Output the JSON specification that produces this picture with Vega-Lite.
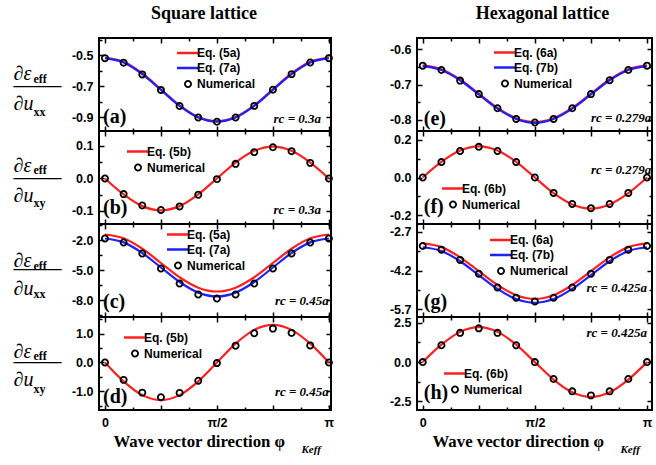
{
"$schema": "https://vega.github.io/schema/vega-lite/v6.json",
"background": "white",
"padding": {"left": 12, "top": 4, "right": 0, "bottom": 0},
"datasets": {
"a": [
{"s":"Eq. (5a)","x":0,"y":-0.516},{"s":"Eq. (5a)","x":15,"y":-0.544},{"s":"Eq. (5a)","x":30,"y":-0.619},{"s":"Eq. (5a)","x":45,"y":-0.721},{"s":"Eq. (5a)","x":60,"y":-0.824},{"s":"Eq. (5a)","x":75,"y":-0.899},{"s":"Eq. (5a)","x":90,"y":-0.926},{"s":"Eq. (5a)","x":105,"y":-0.899},{"s":"Eq. (5a)","x":120,"y":-0.824},{"s":"Eq. (5a)","x":135,"y":-0.721},{"s":"Eq. (5a)","x":150,"y":-0.619},{"s":"Eq. (5a)","x":165,"y":-0.544},{"s":"Eq. (5a)","x":180,"y":-0.516},
{"s":"Eq. (7a)","x":0,"y":-0.52},{"s":"Eq. (7a)","x":15,"y":-0.548},{"s":"Eq. (7a)","x":30,"y":-0.623},{"s":"Eq. (7a)","x":45,"y":-0.725},{"s":"Eq. (7a)","x":60,"y":-0.828},{"s":"Eq. (7a)","x":75,"y":-0.903},{"s":"Eq. (7a)","x":90,"y":-0.93},{"s":"Eq. (7a)","x":105,"y":-0.903},{"s":"Eq. (7a)","x":120,"y":-0.828},{"s":"Eq. (7a)","x":135,"y":-0.725},{"s":"Eq. (7a)","x":150,"y":-0.623},{"s":"Eq. (7a)","x":165,"y":-0.548},{"s":"Eq. (7a)","x":180,"y":-0.52},
{"s":"Numerical","x":0,"y":-0.52},{"s":"Numerical","x":15,"y":-0.549},{"s":"Numerical","x":30,"y":-0.625},{"s":"Numerical","x":45,"y":-0.725},{"s":"Numerical","x":60,"y":-0.829},{"s":"Numerical","x":75,"y":-0.903},{"s":"Numerical","x":90,"y":-0.93},{"s":"Numerical","x":105,"y":-0.903},{"s":"Numerical","x":120,"y":-0.828},{"s":"Numerical","x":135,"y":-0.724},{"s":"Numerical","x":150,"y":-0.623},{"s":"Numerical","x":165,"y":-0.548},{"s":"Numerical","x":180,"y":-0.52}
],
"b": [
{"s":"Eq. (5b)","x":0,"y":0},{"s":"Eq. (5b)","x":15,"y":-0.049},{"s":"Eq. (5b)","x":30,"y":-0.085},{"s":"Eq. (5b)","x":45,"y":-0.098},{"s":"Eq. (5b)","x":60,"y":-0.085},{"s":"Eq. (5b)","x":75,"y":-0.049},{"s":"Eq. (5b)","x":90,"y":0},{"s":"Eq. (5b)","x":105,"y":0.049},{"s":"Eq. (5b)","x":120,"y":0.085},{"s":"Eq. (5b)","x":135,"y":0.098},{"s":"Eq. (5b)","x":150,"y":0.085},{"s":"Eq. (5b)","x":165,"y":0.049},{"s":"Eq. (5b)","x":180,"y":0},
{"s":"Numerical","x":0,"y":0},{"s":"Numerical","x":15,"y":-0.048},{"s":"Numerical","x":30,"y":-0.083},{"s":"Numerical","x":45,"y":-0.097},{"s":"Numerical","x":60,"y":-0.086},{"s":"Numerical","x":75,"y":-0.05},{"s":"Numerical","x":90,"y":-0.002},{"s":"Numerical","x":105,"y":0.045},{"s":"Numerical","x":120,"y":0.081},{"s":"Numerical","x":135,"y":0.096},{"s":"Numerical","x":150,"y":0.084},{"s":"Numerical","x":165,"y":0.048},{"s":"Numerical","x":180,"y":0}
],
"c": [
{"s":"Eq. (5a)","x":0,"y":-1.45},{"s":"Eq. (5a)","x":15,"y":-1.832},{"s":"Eq. (5a)","x":30,"y":-2.875},{"s":"Eq. (5a)","x":45,"y":-4.3},{"s":"Eq. (5a)","x":60,"y":-5.725},{"s":"Eq. (5a)","x":75,"y":-6.768},{"s":"Eq. (5a)","x":90,"y":-7.15},{"s":"Eq. (5a)","x":105,"y":-6.768},{"s":"Eq. (5a)","x":120,"y":-5.725},{"s":"Eq. (5a)","x":135,"y":-4.3},{"s":"Eq. (5a)","x":150,"y":-2.875},{"s":"Eq. (5a)","x":165,"y":-1.832},{"s":"Eq. (5a)","x":180,"y":-1.45},
{"s":"Eq. (7a)","x":0,"y":-1.85},{"s":"Eq. (7a)","x":15,"y":-2.239},{"s":"Eq. (7a)","x":30,"y":-3.3},{"s":"Eq. (7a)","x":45,"y":-4.75},{"s":"Eq. (7a)","x":60,"y":-6.2},{"s":"Eq. (7a)","x":75,"y":-7.261},{"s":"Eq. (7a)","x":90,"y":-7.65},{"s":"Eq. (7a)","x":105,"y":-7.261},{"s":"Eq. (7a)","x":120,"y":-6.2},{"s":"Eq. (7a)","x":135,"y":-4.75},{"s":"Eq. (7a)","x":150,"y":-3.3},{"s":"Eq. (7a)","x":165,"y":-2.239},{"s":"Eq. (7a)","x":180,"y":-1.85},
{"s":"Numerical","x":0,"y":-1.85},{"s":"Numerical","x":15,"y":-2.25},{"s":"Numerical","x":30,"y":-3.35},{"s":"Numerical","x":45,"y":-4.85},{"s":"Numerical","x":60,"y":-6.35},{"s":"Numerical","x":75,"y":-7.45},{"s":"Numerical","x":90,"y":-7.85},{"s":"Numerical","x":105,"y":-7.45},{"s":"Numerical","x":120,"y":-6.35},{"s":"Numerical","x":135,"y":-4.85},{"s":"Numerical","x":150,"y":-3.35},{"s":"Numerical","x":165,"y":-2.25},{"s":"Numerical","x":180,"y":-1.85}
],
"d": [
{"s":"Eq. (5b)","x":0,"y":0},{"s":"Eq. (5b)","x":15,"y":-0.65},{"s":"Eq. (5b)","x":30,"y":-1.126},{"s":"Eq. (5b)","x":45,"y":-1.3},{"s":"Eq. (5b)","x":60,"y":-1.126},{"s":"Eq. (5b)","x":75,"y":-0.65},{"s":"Eq. (5b)","x":90,"y":0},{"s":"Eq. (5b)","x":105,"y":0.65},{"s":"Eq. (5b)","x":120,"y":1.126},{"s":"Eq. (5b)","x":135,"y":1.3},{"s":"Eq. (5b)","x":150,"y":1.126},{"s":"Eq. (5b)","x":165,"y":0.65},{"s":"Eq. (5b)","x":180,"y":0},
{"s":"Numerical","x":0,"y":0},{"s":"Numerical","x":15,"y":-0.6},{"s":"Numerical","x":30,"y":-1.04},{"s":"Numerical","x":45,"y":-1.2},{"s":"Numerical","x":60,"y":-1.05},{"s":"Numerical","x":75,"y":-0.63},{"s":"Numerical","x":90,"y":-0.02},{"s":"Numerical","x":105,"y":0.58},{"s":"Numerical","x":120,"y":1.01},{"s":"Numerical","x":135,"y":1.17},{"s":"Numerical","x":150,"y":1.02},{"s":"Numerical","x":165,"y":0.59},{"s":"Numerical","x":180,"y":0}
],
"e": [
{"s":"Eq. (6a)","x":0,"y":-0.646},{"s":"Eq. (6a)","x":15,"y":-0.657},{"s":"Eq. (6a)","x":30,"y":-0.686},{"s":"Eq. (6a)","x":45,"y":-0.726},{"s":"Eq. (6a)","x":60,"y":-0.766},{"s":"Eq. (6a)","x":75,"y":-0.795},{"s":"Eq. (6a)","x":90,"y":-0.806},{"s":"Eq. (6a)","x":105,"y":-0.795},{"s":"Eq. (6a)","x":120,"y":-0.766},{"s":"Eq. (6a)","x":135,"y":-0.726},{"s":"Eq. (6a)","x":150,"y":-0.686},{"s":"Eq. (6a)","x":165,"y":-0.657},{"s":"Eq. (6a)","x":180,"y":-0.646},
{"s":"Eq. (7b)","x":0,"y":-0.648},{"s":"Eq. (7b)","x":15,"y":-0.659},{"s":"Eq. (7b)","x":30,"y":-0.688},{"s":"Eq. (7b)","x":45,"y":-0.728},{"s":"Eq. (7b)","x":60,"y":-0.768},{"s":"Eq. (7b)","x":75,"y":-0.797},{"s":"Eq. (7b)","x":90,"y":-0.808},{"s":"Eq. (7b)","x":105,"y":-0.797},{"s":"Eq. (7b)","x":120,"y":-0.768},{"s":"Eq. (7b)","x":135,"y":-0.728},{"s":"Eq. (7b)","x":150,"y":-0.688},{"s":"Eq. (7b)","x":165,"y":-0.659},{"s":"Eq. (7b)","x":180,"y":-0.648},
{"s":"Numerical","x":0,"y":-0.647},{"s":"Numerical","x":15,"y":-0.659},{"s":"Numerical","x":30,"y":-0.689},{"s":"Numerical","x":45,"y":-0.727},{"s":"Numerical","x":60,"y":-0.767},{"s":"Numerical","x":75,"y":-0.797},{"s":"Numerical","x":90,"y":-0.807},{"s":"Numerical","x":105,"y":-0.797},{"s":"Numerical","x":120,"y":-0.767},{"s":"Numerical","x":135,"y":-0.727},{"s":"Numerical","x":150,"y":-0.688},{"s":"Numerical","x":165,"y":-0.659},{"s":"Numerical","x":180,"y":-0.647}
],
"f": [
{"s":"Eq. (6b)","x":0,"y":0},{"s":"Eq. (6b)","x":15,"y":0.083},{"s":"Eq. (6b)","x":30,"y":0.143},{"s":"Eq. (6b)","x":45,"y":0.165},{"s":"Eq. (6b)","x":60,"y":0.143},{"s":"Eq. (6b)","x":75,"y":0.083},{"s":"Eq. (6b)","x":90,"y":0},{"s":"Eq. (6b)","x":105,"y":-0.083},{"s":"Eq. (6b)","x":120,"y":-0.143},{"s":"Eq. (6b)","x":135,"y":-0.165},{"s":"Eq. (6b)","x":150,"y":-0.143},{"s":"Eq. (6b)","x":165,"y":-0.083},{"s":"Eq. (6b)","x":180,"y":0},
{"s":"Numerical","x":0,"y":0},{"s":"Numerical","x":15,"y":0.082},{"s":"Numerical","x":30,"y":0.141},{"s":"Numerical","x":45,"y":0.163},{"s":"Numerical","x":60,"y":0.141},{"s":"Numerical","x":75,"y":0.082},{"s":"Numerical","x":90,"y":0},{"s":"Numerical","x":105,"y":-0.082},{"s":"Numerical","x":120,"y":-0.141},{"s":"Numerical","x":135,"y":-0.163},{"s":"Numerical","x":150,"y":-0.141},{"s":"Numerical","x":165,"y":-0.082},{"s":"Numerical","x":180,"y":0}
],
"g": [
{"s":"Eq. (6a)","x":0,"y":-3.15},{"s":"Eq. (6a)","x":15,"y":-3.294},{"s":"Eq. (6a)","x":30,"y":-3.69},{"s":"Eq. (6a)","x":45,"y":-4.225},{"s":"Eq. (6a)","x":60,"y":-4.76},{"s":"Eq. (6a)","x":75,"y":-5.156},{"s":"Eq. (6a)","x":90,"y":-5.3},{"s":"Eq. (6a)","x":105,"y":-5.156},{"s":"Eq. (6a)","x":120,"y":-4.76},{"s":"Eq. (6a)","x":135,"y":-4.225},{"s":"Eq. (6a)","x":150,"y":-3.69},{"s":"Eq. (6a)","x":165,"y":-3.294},{"s":"Eq. (6a)","x":180,"y":-3.15},
{"s":"Eq. (7b)","x":0,"y":-3.3},{"s":"Eq. (7b)","x":15,"y":-3.444},{"s":"Eq. (7b)","x":30,"y":-3.84},{"s":"Eq. (7b)","x":45,"y":-4.375},{"s":"Eq. (7b)","x":60,"y":-4.91},{"s":"Eq. (7b)","x":75,"y":-5.306},{"s":"Eq. (7b)","x":90,"y":-5.45},{"s":"Eq. (7b)","x":105,"y":-5.306},{"s":"Eq. (7b)","x":120,"y":-4.91},{"s":"Eq. (7b)","x":135,"y":-4.375},{"s":"Eq. (7b)","x":150,"y":-3.84},{"s":"Eq. (7b)","x":165,"y":-3.444},{"s":"Eq. (7b)","x":180,"y":-3.3},
{"s":"Numerical","x":0,"y":-3.25},{"s":"Numerical","x":15,"y":-3.394},{"s":"Numerical","x":30,"y":-3.79},{"s":"Numerical","x":45,"y":-4.325},{"s":"Numerical","x":60,"y":-4.86},{"s":"Numerical","x":75,"y":-5.256},{"s":"Numerical","x":90,"y":-5.4},{"s":"Numerical","x":105,"y":-5.256},{"s":"Numerical","x":120,"y":-4.86},{"s":"Numerical","x":135,"y":-4.325},{"s":"Numerical","x":150,"y":-3.79},{"s":"Numerical","x":165,"y":-3.394},{"s":"Numerical","x":180,"y":-3.25}
],
"h": [
{"s":"Eq. (6b)","x":0,"y":0},{"s":"Eq. (6b)","x":15,"y":1.11},{"s":"Eq. (6b)","x":30,"y":1.923},{"s":"Eq. (6b)","x":45,"y":2.22},{"s":"Eq. (6b)","x":60,"y":1.923},{"s":"Eq. (6b)","x":75,"y":1.11},{"s":"Eq. (6b)","x":90,"y":0},{"s":"Eq. (6b)","x":105,"y":-1.11},{"s":"Eq. (6b)","x":120,"y":-1.923},{"s":"Eq. (6b)","x":135,"y":-2.22},{"s":"Eq. (6b)","x":150,"y":-1.923},{"s":"Eq. (6b)","x":165,"y":-1.11},{"s":"Eq. (6b)","x":180,"y":0},
{"s":"Numerical","x":0,"y":0},{"s":"Numerical","x":15,"y":1.075},{"s":"Numerical","x":30,"y":1.862},{"s":"Numerical","x":45,"y":2.15},{"s":"Numerical","x":60,"y":1.862},{"s":"Numerical","x":75,"y":1.075},{"s":"Numerical","x":90,"y":0},{"s":"Numerical","x":105,"y":-1.075},{"s":"Numerical","x":120,"y":-1.862},{"s":"Numerical","x":135,"y":-2.12},{"s":"Numerical","x":150,"y":-1.862},{"s":"Numerical","x":165,"y":-1.075},{"s":"Numerical","x":180,"y":0}
]
},
"hconcat": [
{
"spacing": 0, "bounds": "flush",
"resolve": {"scale": {"x": "independent", "y": "independent", "color": "independent"}, "legend": {"color": "independent"}},
"vconcat": [
{
"width": 232, "height": 93, "data": {"name": "a"},
"title": {"text": "Square lattice", "frame": "group", "anchor": "middle", "offset": 14, "dx": -11},
"layer": [
{"transform": [{"filter": "datum.s !== 'Numerical'"}],
"mark": {"type": "line", "interpolate": "monotone", "strokeWidth": 2.2},
"encoding": {
"x": {"field": "x", "type": "quantitative", "scale": {"domain": [-4.8, 181.7], "nice": false}, "axis": {"orient": "bottom", "values": [0, 45, 90, 135, 180], "labels": false, "title": null}},
"y": {"field": "y", "type": "quantitative", "scale": {"domain": [-0.99, -0.39], "nice": false, "zero": false}, "axis": {"orient": "left", "values": [-0.9, -0.7, -0.5], "format": ".1f", "title": ["\u2009∂ε", "∂u"], "titleAngle": 0, "titleAlign": "left", "titleBaseline": "middle", "titleX": -86, "titleY": 35, "titleFontStyle": "italic", "titleFontWeight": "normal", "titleFontSize": 20, "titleLineHeight": 30}},
"color": {"field": "s", "type": "nominal", "scale": {"domain": ["Eq. (5a)", "Eq. (7a)", "Numerical"], "range": ["#ff1f1f", "#1f1fff", "#000000"]}, "legend": {"title": null, "orient": "none", "legendX": 83, "legendY": 9, "encode": {"symbols": {"update": {"shape": {"signal": "datum.value === 'Numerical' ? 'circle' : 'stroke'"}, "size": {"signal": "datum.value === 'Numerical' ? 38 : 484"}, "strokeWidth": {"signal": "datum.value === 'Numerical' ? 1.8 : 2.5"}, "fill": {"value": "transparent"}}}}}}
}},
{"transform": [{"filter": "datum.s === 'Numerical'"}],
"mark": {"type": "point", "filled": false, "size": 38, "strokeWidth": 1.8, "opacity": 1},
"encoding": {
"x": {"field": "x", "type": "quantitative", "axis": {"orient": "top", "values": [0, 45, 90, 135, 180], "labels": false, "title": null}},
"y": {"field": "y", "type": "quantitative", "axis": {"orient": "right", "values": [-0.9, -0.7, -0.5], "labels": false, "title": null}},
"color": {"field": "s", "type": "nominal"}
}},
{"data": {"values": [{"t": "(a)"}]},
"mark": {"type": "text", "align": "left", "baseline": "middle", "font": "Liberation Serif", "fontWeight": "bold", "fontSize": 20, "color": "black"},
"encoding": {
"x": {"datum": -1.6, "type": "quantitative", "axis": {"orient": "bottom", "values": [22.5, 67.5, 112.5, 157.5], "labels": false, "tickSize": -3, "title": null}},
"y": {"datum": -0.9, "type": "quantitative", "axis": {"orient": "left", "values": [-0.8, -0.6, -0.4], "labels": false, "tickSize": -3, "title": ["eff", "xx"], "titleAngle": 0, "titleAlign": "left", "titleBaseline": "middle", "titleX": -66, "titleY": 40, "titleFontSize": 12, "titleLineHeight": 33}},
"text": {"field": "t"}
}},
{"data": {"values": [{"t": "rc = 0.3a"}]},
"mark": {"type": "text", "align": "right", "baseline": "middle", "font": "Liberation Serif", "fontWeight": "bold", "fontStyle": "italic", "fontSize": 13, "color": "black"},
"encoding": {
"x": {"datum": 173.7, "type": "quantitative", "axis": {"orient": "top", "values": [22.5, 67.5, 112.5, 157.5], "labels": false, "tickSize": -3, "title": "———", "titleAngle": 0, "titleAlign": "left", "titleBaseline": "middle", "titleX": -86, "titleY": 47, "titleFontSize": 16, "titleFontWeight": "bold"}},
"y": {"datum": -0.913, "type": "quantitative", "axis": {"orient": "right", "values": [-0.8, -0.6, -0.4], "labels": false, "tickSize": -3, "title": null}},
"text": {"field": "t"}
}}
],
"resolve": {"axis": {"x": "independent", "y": "independent"}}
},
{
"width": 232, "height": 93, "data": {"name": "b"},
"layer": [
{"transform": [{"filter": "datum.s !== 'Numerical'"}],
"mark": {"type": "line", "interpolate": "monotone", "strokeWidth": 2.2},
"encoding": {
"x": {"field": "x", "type": "quantitative", "scale": {"domain": [-4.8, 181.7], "nice": false}, "axis": {"orient": "bottom", "values": [0, 45, 90, 135, 180], "labels": false, "title": null}},
"y": {"field": "y", "type": "quantitative", "scale": {"domain": [-0.14, 0.146], "nice": false, "zero": false}, "axis": {"orient": "left", "values": [-0.1, 0, 0.1], "format": ".1f", "title": ["\u2009∂ε", "∂u"], "titleAngle": 0, "titleAlign": "left", "titleBaseline": "middle", "titleX": -86, "titleY": 34, "titleFontStyle": "italic", "titleFontWeight": "normal", "titleFontSize": 20, "titleLineHeight": 30}},
"color": {"field": "s", "type": "nominal", "scale": {"domain": ["Eq. (5b)", "Numerical"], "range": ["#ff1f1f", "#000000"]}, "legend": {"title": null, "orient": "none", "legendX": 33, "legendY": 14.5, "encode": {"symbols": {"update": {"shape": {"signal": "datum.value === 'Numerical' ? 'circle' : 'stroke'"}, "size": {"signal": "datum.value === 'Numerical' ? 38 : 484"}, "strokeWidth": {"signal": "datum.value === 'Numerical' ? 1.8 : 2.5"}, "fill": {"value": "transparent"}}}}}}
}},
{"transform": [{"filter": "datum.s === 'Numerical'"}],
"mark": {"type": "point", "filled": false, "size": 38, "strokeWidth": 1.8, "opacity": 1},
"encoding": {
"x": {"field": "x", "type": "quantitative", "axis": {"orient": "top", "values": [0, 45, 90, 135, 180], "labels": false, "title": null}},
"y": {"field": "y", "type": "quantitative", "axis": {"orient": "right", "values": [-0.1, 0, 0.1], "labels": false, "title": null}},
"color": {"field": "s", "type": "nominal"}
}},
{"data": {"values": [{"t": "(b)"}]},
"mark": {"type": "text", "align": "left", "baseline": "middle", "font": "Liberation Serif", "fontWeight": "bold", "fontSize": 20, "color": "black"},
"encoding": {
"x": {"datum": -1.6, "type": "quantitative", "axis": {"orient": "bottom", "values": [22.5, 67.5, 112.5, 157.5], "labels": false, "tickSize": -3, "title": null}},
"y": {"datum": -0.091, "type": "quantitative", "axis": {"orient": "left", "values": [-0.05, 0.05], "labels": false, "tickSize": -3, "title": ["eff", "xy"], "titleAngle": 0, "titleAlign": "left", "titleBaseline": "middle", "titleX": -66, "titleY": 38, "titleFontSize": 12, "titleLineHeight": 33}},
"text": {"field": "t"}
}},
{"data": {"values": [{"t": "rc = 0.3a"}]},
"mark": {"type": "text", "align": "right", "baseline": "middle", "font": "Liberation Serif", "fontWeight": "bold", "fontStyle": "italic", "fontSize": 13, "color": "black"},
"encoding": {
"x": {"datum": 173.7, "type": "quantitative", "axis": {"orient": "top", "values": [22.5, 67.5, 112.5, 157.5], "labels": false, "tickSize": -3, "title": "———", "titleAngle": 0, "titleAlign": "left", "titleBaseline": "middle", "titleX": -86, "titleY": 46, "titleFontSize": 16, "titleFontWeight": "bold"}},
"y": {"datum": -0.097, "type": "quantitative", "axis": {"orient": "right", "values": [-0.05, 0.05], "labels": false, "tickSize": -3, "title": null}},
"text": {"field": "t"}
}}
],
"resolve": {"axis": {"x": "independent", "y": "independent"}}
},
{
"width": 232, "height": 93, "data": {"name": "c"},
"layer": [
{"transform": [{"filter": "datum.s !== 'Numerical'"}],
"mark": {"type": "line", "interpolate": "monotone", "strokeWidth": 2.2},
"encoding": {
"x": {"field": "x", "type": "quantitative", "scale": {"domain": [-4.8, 181.7], "nice": false}, "axis": {"orient": "bottom", "values": [0, 45, 90, 135, 180], "labels": false, "title": null}},
"y": {"field": "y", "type": "quantitative", "scale": {"domain": [-9.7, -0.4], "nice": false, "zero": false}, "axis": {"orient": "left", "values": [-8, -5, -2], "format": ".1f", "title": ["\u2009∂ε", "∂u"], "titleAngle": 0, "titleAlign": "left", "titleBaseline": "middle", "titleX": -86, "titleY": 36, "titleFontStyle": "italic", "titleFontWeight": "normal", "titleFontSize": 20, "titleLineHeight": 28}},
"color": {"field": "s", "type": "nominal", "scale": {"domain": ["Eq. (5a)", "Eq. (7a)", "Numerical"], "range": ["#ff1f1f", "#1f1fff", "#000000"]}, "legend": {"title": null, "orient": "none", "legendX": 73, "legendY": 4.5, "encode": {"symbols": {"update": {"shape": {"signal": "datum.value === 'Numerical' ? 'circle' : 'stroke'"}, "size": {"signal": "datum.value === 'Numerical' ? 38 : 484"}, "strokeWidth": {"signal": "datum.value === 'Numerical' ? 1.8 : 2.5"}, "fill": {"value": "transparent"}}}}}}
}},
{"transform": [{"filter": "datum.s === 'Numerical'"}],
"mark": {"type": "point", "filled": false, "size": 38, "strokeWidth": 1.8, "opacity": 1},
"encoding": {
"x": {"field": "x", "type": "quantitative", "axis": {"orient": "top", "values": [0, 45, 90, 135, 180], "labels": false, "title": null}},
"y": {"field": "y", "type": "quantitative", "axis": {"orient": "right", "values": [-8, -5, -2], "labels": false, "title": null}},
"color": {"field": "s", "type": "nominal"}
}},
{"data": {"values": [{"t": "(c)"}]},
"mark": {"type": "text", "align": "left", "baseline": "middle", "font": "Liberation Serif", "fontWeight": "bold", "fontSize": 20, "color": "black"},
"encoding": {
"x": {"datum": -1.6, "type": "quantitative", "axis": {"orient": "bottom", "values": [22.5, 67.5, 112.5, 157.5], "labels": false, "tickSize": -3, "title": null}},
"y": {"datum": -8.17, "type": "quantitative", "axis": {"orient": "left", "values": [-9.5, -6.5, -3.5, -0.5], "labels": false, "tickSize": -3, "title": ["eff", "xx"], "titleAngle": 0, "titleAlign": "left", "titleBaseline": "middle", "titleX": -66, "titleY": 41, "titleFontSize": 12, "titleLineHeight": 28}},
"text": {"field": "t"}
}},
{"data": {"values": [{"t": "rc = 0.45a"}]},
"mark": {"type": "text", "align": "right", "baseline": "middle", "font": "Liberation Serif", "fontWeight": "bold", "fontStyle": "italic", "fontSize": 13, "color": "black"},
"encoding": {
"x": {"datum": 180, "type": "quantitative", "axis": {"orient": "top", "values": [22.5, 67.5, 112.5, 157.5], "labels": false, "tickSize": -3, "title": "———", "titleAngle": 0, "titleAlign": "left", "titleBaseline": "middle", "titleX": -86, "titleY": 44, "titleFontSize": 16, "titleFontWeight": "bold"}},
"y": {"datum": -8.1, "type": "quantitative", "axis": {"orient": "right", "values": [-9.5, -6.5, -3.5, -0.5], "labels": false, "tickSize": -3, "title": null}},
"text": {"field": "t"}
}}
],
"resolve": {"axis": {"x": "independent", "y": "independent"}}
},
{
"width": 232, "height": 93, "data": {"name": "d"},
"layer": [
{"transform": [{"filter": "datum.s !== 'Numerical'"}],
"mark": {"type": "line", "interpolate": "monotone", "strokeWidth": 2.2},
"encoding": {
"x": {"field": "x", "type": "quantitative", "scale": {"domain": [-4.8, 181.7], "nice": false}, "axis": {"orient": "bottom", "values": [0, 45, 90, 135, 180], "labelExpr": "datum.value === 0 ? '0' : datum.value === 90 ? 'π/2' : datum.value === 180 ? 'π' : ''", "title": "Wave vector direction  φ", "titleAngle": 0, "titleAlign": "left", "titleBaseline": "middle", "titleX": 14, "titleY": 31, "titleFontSize": 16.8}},
"y": {"field": "y", "type": "quantitative", "scale": {"domain": [-1.64, 1.57], "nice": false, "zero": false}, "axis": {"orient": "left", "values": [-1, 0, 1], "format": ".1f", "title": ["\u2009∂ε", "∂u"], "titleAngle": 0, "titleAlign": "left", "titleBaseline": "middle", "titleX": -86, "titleY": 34, "titleFontStyle": "italic", "titleFontWeight": "normal", "titleFontSize": 20, "titleLineHeight": 28}},
"color": {"field": "s", "type": "nominal", "scale": {"domain": ["Eq. (5b)", "Numerical"], "range": ["#ff1f1f", "#000000"]}, "legend": {"title": null, "orient": "none", "legendX": 30, "legendY": 14.5, "encode": {"symbols": {"update": {"shape": {"signal": "datum.value === 'Numerical' ? 'circle' : 'stroke'"}, "size": {"signal": "datum.value === 'Numerical' ? 38 : 484"}, "strokeWidth": {"signal": "datum.value === 'Numerical' ? 1.8 : 2.5"}, "fill": {"value": "transparent"}}}}}}
}},
{"transform": [{"filter": "datum.s === 'Numerical'"}],
"mark": {"type": "point", "filled": false, "size": 38, "strokeWidth": 1.8, "opacity": 1},
"encoding": {
"x": {"field": "x", "type": "quantitative", "axis": {"orient": "top", "values": [0, 45, 90, 135, 180], "labels": false, "title": null}},
"y": {"field": "y", "type": "quantitative", "axis": {"orient": "right", "values": [-1, 0, 1], "labels": false, "title": null}},
"color": {"field": "s", "type": "nominal"}
}},
{"data": {"values": [{"t": "(d)"}]},
"mark": {"type": "text", "align": "left", "baseline": "middle", "font": "Liberation Serif", "fontWeight": "bold", "fontSize": 20, "color": "black"},
"encoding": {
"x": {"datum": -1.6, "type": "quantitative", "axis": {"orient": "bottom", "values": [22.5, 67.5, 112.5, 157.5], "labels": false, "tickSize": -3, "title": "Keff", "titleAngle": 0, "titleAlign": "left", "titleBaseline": "middle", "titleX": 202, "titleY": 39, "titleFontSize": 11, "titleFontStyle": "italic"}},
"y": {"datum": -1.18, "type": "quantitative", "axis": {"orient": "left", "values": [-1.5, -0.5, 0.5, 1.5], "labels": false, "tickSize": -3, "title": ["eff", "xy"], "titleAngle": 0, "titleAlign": "left", "titleBaseline": "middle", "titleX": -66, "titleY": 38, "titleFontSize": 12, "titleLineHeight": 33}},
"text": {"field": "t"}
}},
{"data": {"values": [{"t": "rc = 0.45a"}]},
"mark": {"type": "text", "align": "right", "baseline": "middle", "font": "Liberation Serif", "fontWeight": "bold", "fontStyle": "italic", "fontSize": 13, "color": "black"},
"encoding": {
"x": {"datum": 180, "type": "quantitative", "axis": {"orient": "top", "values": [22.5, 67.5, 112.5, 157.5], "labels": false, "tickSize": -3, "title": "———", "titleAngle": 0, "titleAlign": "left", "titleBaseline": "middle", "titleX": -86, "titleY": 44, "titleFontSize": 16, "titleFontWeight": "bold"}},
"y": {"datum": -1.02, "type": "quantitative", "axis": {"orient": "right", "values": [-1.5, -0.5, 0.5, 1.5], "labels": false, "tickSize": -3, "title": null}},
"text": {"field": "t"}
}}
],
"resolve": {"axis": {"x": "independent", "y": "independent"}}
}
]
},
{
"spacing": 0, "bounds": "flush",
"resolve": {"scale": {"x": "independent", "y": "independent", "color": "independent"}, "legend": {"color": "independent"}},
"vconcat": [
{
"width": 235, "height": 93, "data": {"name": "e"},
"title": {"text": "Hexagonal lattice", "frame": "group", "anchor": "middle", "offset": 14, "dx": 8},
"layer": [
{"transform": [{"filter": "datum.s !== 'Numerical'"}],
"mark": {"type": "line", "interpolate": "monotone", "strokeWidth": 2.2},
"encoding": {
"x": {"field": "x", "type": "quantitative", "scale": {"domain": [-4.6, 184], "nice": false}, "axis": {"orient": "bottom", "values": [0, 45, 90, 135, 180], "labels": false, "title": null}},
"y": {"field": "y", "type": "quantitative", "scale": {"domain": [-0.831, -0.569], "nice": false, "zero": false}, "axis": {"orient": "left", "values": [-0.8, -0.7, -0.6], "format": ".1f", "title": null}},
"color": {"field": "s", "type": "nominal", "scale": {"domain": ["Eq. (6a)", "Eq. (7b)", "Numerical"], "range": ["#ff1f1f", "#1f1fff", "#000000"]}, "legend": {"title": null, "orient": "none", "legendX": 82, "legendY": 8.5, "encode": {"symbols": {"update": {"shape": {"signal": "datum.value === 'Numerical' ? 'circle' : 'stroke'"}, "size": {"signal": "datum.value === 'Numerical' ? 38 : 484"}, "strokeWidth": {"signal": "datum.value === 'Numerical' ? 1.8 : 2.5"}, "fill": {"value": "transparent"}}}}}}
}},
{"transform": [{"filter": "datum.s === 'Numerical'"}],
"mark": {"type": "point", "filled": false, "size": 38, "strokeWidth": 1.8, "opacity": 1},
"encoding": {
"x": {"field": "x", "type": "quantitative", "axis": {"orient": "top", "values": [0, 45, 90, 135, 180], "labels": false, "title": null}},
"y": {"field": "y", "type": "quantitative", "axis": {"orient": "right", "values": [-0.8, -0.7, -0.6], "labels": false, "title": null}},
"color": {"field": "s", "type": "nominal"}
}},
{"data": {"values": [{"t": "(e)"}]},
"mark": {"type": "text", "align": "left", "baseline": "middle", "font": "Liberation Serif", "fontWeight": "bold", "fontSize": 20, "color": "black"},
"encoding": {
"x": {"datum": 0.8, "type": "quantitative", "axis": {"orient": "bottom", "values": [22.5, 67.5, 112.5, 157.5], "labels": false, "tickSize": -3, "title": null}},
"y": {"datum": -0.797, "type": "quantitative", "axis": {"orient": "left", "values": [-0.75, -0.65], "labels": false, "tickSize": -3, "title": null}},
"text": {"field": "t"}
}},
{"data": {"values": [{"t": "rc = 0.279a"}]},
"mark": {"type": "text", "align": "right", "baseline": "middle", "font": "Liberation Serif", "fontWeight": "bold", "fontStyle": "italic", "fontSize": 13, "color": "black"},
"encoding": {
"x": {"datum": 183.5, "type": "quantitative", "axis": {"orient": "top", "values": [22.5, 67.5, 112.5, 157.5], "labels": false, "tickSize": -3, "title": null}},
"y": {"datum": -0.794, "type": "quantitative", "axis": {"orient": "right", "values": [-0.75, -0.65], "labels": false, "tickSize": -3, "title": null}},
"text": {"field": "t"}
}}
],
"resolve": {"axis": {"x": "independent", "y": "independent"}}
},
{
"width": 235, "height": 93, "data": {"name": "f"},
"layer": [
{"transform": [{"filter": "datum.s !== 'Numerical'"}],
"mark": {"type": "line", "interpolate": "monotone", "strokeWidth": 2.2},
"encoding": {
"x": {"field": "x", "type": "quantitative", "scale": {"domain": [-4.6, 184], "nice": false}, "axis": {"orient": "bottom", "values": [0, 45, 90, 135, 180], "labels": false, "title": null}},
"y": {"field": "y", "type": "quantitative", "scale": {"domain": [-0.247, 0.247], "nice": false, "zero": false}, "axis": {"orient": "left", "values": [-0.2, 0, 0.2], "format": ".1f", "title": null}},
"color": {"field": "s", "type": "nominal", "scale": {"domain": ["Eq. (6b)", "Numerical"], "range": ["#ff1f1f", "#000000"]}, "legend": {"title": null, "orient": "none", "legendX": 30, "legendY": 51.5, "encode": {"symbols": {"update": {"shape": {"signal": "datum.value === 'Numerical' ? 'circle' : 'stroke'"}, "size": {"signal": "datum.value === 'Numerical' ? 38 : 484"}, "strokeWidth": {"signal": "datum.value === 'Numerical' ? 1.8 : 2.5"}, "fill": {"value": "transparent"}}}}}}
}},
{"transform": [{"filter": "datum.s === 'Numerical'"}],
"mark": {"type": "point", "filled": false, "size": 38, "strokeWidth": 1.8, "opacity": 1},
"encoding": {
"x": {"field": "x", "type": "quantitative", "axis": {"orient": "top", "values": [0, 45, 90, 135, 180], "labels": false, "title": null}},
"y": {"field": "y", "type": "quantitative", "axis": {"orient": "right", "values": [-0.2, 0, 0.2], "labels": false, "title": null}},
"color": {"field": "s", "type": "nominal"}
}},
{"data": {"values": [{"t": "(f)"}]},
"mark": {"type": "text", "align": "left", "baseline": "middle", "font": "Liberation Serif", "fontWeight": "bold", "fontSize": 20, "color": "black"},
"encoding": {
"x": {"datum": 0.8, "type": "quantitative", "axis": {"orient": "bottom", "values": [22.5, 67.5, 112.5, 157.5], "labels": false, "tickSize": -3, "title": null}},
"y": {"datum": -0.158, "type": "quantitative", "axis": {"orient": "left", "values": [-0.1, 0.1], "labels": false, "tickSize": -3, "title": null}},
"text": {"field": "t"}
}},
{"data": {"values": [{"t": "rc = 0.279a"}]},
"mark": {"type": "text", "align": "right", "baseline": "middle", "font": "Liberation Serif", "fontWeight": "bold", "fontStyle": "italic", "fontSize": 13, "color": "black"},
"encoding": {
"x": {"datum": 183.5, "type": "quantitative", "axis": {"orient": "top", "values": [22.5, 67.5, 112.5, 157.5], "labels": false, "tickSize": -3, "title": null}},
"y": {"datum": 0.04, "type": "quantitative", "axis": {"orient": "right", "values": [-0.1, 0.1], "labels": false, "tickSize": -3, "title": null}},
"text": {"field": "t"}
}}
],
"resolve": {"axis": {"x": "independent", "y": "independent"}}
},
{
"width": 235, "height": 93, "data": {"name": "g"},
"layer": [
{"transform": [{"filter": "datum.s !== 'Numerical'"}],
"mark": {"type": "line", "interpolate": "monotone", "strokeWidth": 2.2},
"encoding": {
"x": {"field": "x", "type": "quantitative", "scale": {"domain": [-4.6, 184], "nice": false}, "axis": {"orient": "bottom", "values": [0, 45, 90, 135, 180], "labels": false, "title": null}},
"y": {"field": "y", "type": "quantitative", "scale": {"domain": [-6.0, -2.4], "nice": false, "zero": false}, "axis": {"orient": "left", "values": [-5.7, -4.2, -2.7], "format": ".1f", "title": null}},
"color": {"field": "s", "type": "nominal", "scale": {"domain": ["Eq. (6a)", "Eq. (7b)", "Numerical"], "range": ["#ff1f1f", "#1f1fff", "#000000"]}, "legend": {"title": null, "orient": "none", "legendX": 78, "legendY": 10, "encode": {"symbols": {"update": {"shape": {"signal": "datum.value === 'Numerical' ? 'circle' : 'stroke'"}, "size": {"signal": "datum.value === 'Numerical' ? 38 : 484"}, "strokeWidth": {"signal": "datum.value === 'Numerical' ? 1.8 : 2.5"}, "fill": {"value": "transparent"}}}}}}
}},
{"transform": [{"filter": "datum.s === 'Numerical'"}],
"mark": {"type": "point", "filled": false, "size": 38, "strokeWidth": 1.8, "opacity": 1},
"encoding": {
"x": {"field": "x", "type": "quantitative", "axis": {"orient": "top", "values": [0, 45, 90, 135, 180], "labels": false, "title": null}},
"y": {"field": "y", "type": "quantitative", "axis": {"orient": "right", "values": [-5.7, -4.2, -2.7], "labels": false, "title": null}},
"color": {"field": "s", "type": "nominal"}
}},
{"data": {"values": [{"t": "(g)"}]},
"mark": {"type": "text", "align": "left", "baseline": "middle", "font": "Liberation Serif", "fontWeight": "bold", "fontSize": 20, "color": "black"},
"encoding": {
"x": {"datum": 0.8, "type": "quantitative", "axis": {"orient": "bottom", "values": [22.5, 67.5, 112.5, 157.5], "labels": false, "tickSize": -3, "title": null}},
"y": {"datum": -5.41, "type": "quantitative", "axis": {"orient": "left", "values": [-4.95, -3.45], "labels": false, "tickSize": -3, "title": null}},
"text": {"field": "t"}
}},
{"data": {"values": [{"t": "rc = 0.425a"}]},
"mark": {"type": "text", "align": "right", "baseline": "middle", "font": "Liberation Serif", "fontWeight": "bold", "fontStyle": "italic", "fontSize": 13, "color": "black"},
"encoding": {
"x": {"datum": 180, "type": "quantitative", "axis": {"orient": "top", "values": [22.5, 67.5, 112.5, 157.5], "labels": false, "tickSize": -3, "title": null}},
"y": {"datum": -4.89, "type": "quantitative", "axis": {"orient": "right", "values": [-4.95, -3.45], "labels": false, "tickSize": -3, "title": null}},
"text": {"field": "t"}
}}
],
"resolve": {"axis": {"x": "independent", "y": "independent"}}
},
{
"width": 235, "height": 93, "data": {"name": "h"},
"layer": [
{"transform": [{"filter": "datum.s !== 'Numerical'"}],
"mark": {"type": "line", "interpolate": "monotone", "strokeWidth": 2.2},
"encoding": {
"x": {"field": "x", "type": "quantitative", "scale": {"domain": [-4.6, 184], "nice": false}, "axis": {"orient": "bottom", "values": [0, 45, 90, 135, 180], "labelExpr": "datum.value === 0 ? '0' : datum.value === 90 ? 'π/2' : datum.value === 180 ? 'π' : ''", "title": "Wave vector direction  φ", "titleAngle": 0, "titleAlign": "left", "titleBaseline": "middle", "titleX": 15, "titleY": 31, "titleFontSize": 16.8}},
"y": {"field": "y", "type": "quantitative", "scale": {"domain": [-3.05, 2.87], "nice": false, "zero": false}, "axis": {"orient": "left", "values": [-2.5, 0, 2.5], "format": ".1f", "title": null}},
"color": {"field": "s", "type": "nominal", "scale": {"domain": ["Eq. (6b)", "Numerical"], "range": ["#ff1f1f", "#000000"]}, "legend": {"title": null, "orient": "none", "legendX": 32, "legendY": 50.5, "encode": {"symbols": {"update": {"shape": {"signal": "datum.value === 'Numerical' ? 'circle' : 'stroke'"}, "size": {"signal": "datum.value === 'Numerical' ? 38 : 484"}, "strokeWidth": {"signal": "datum.value === 'Numerical' ? 1.8 : 2.5"}, "fill": {"value": "transparent"}}}}}}
}},
{"transform": [{"filter": "datum.s === 'Numerical'"}],
"mark": {"type": "point", "filled": false, "size": 38, "strokeWidth": 1.8, "opacity": 1},
"encoding": {
"x": {"field": "x", "type": "quantitative", "axis": {"orient": "top", "values": [0, 45, 90, 135, 180], "labels": false, "title": null}},
"y": {"field": "y", "type": "quantitative", "axis": {"orient": "right", "values": [-2.5, 0, 2.5], "labels": false, "title": null}},
"color": {"field": "s", "type": "nominal"}
}},
{"data": {"values": [{"t": "(h)"}]},
"mark": {"type": "text", "align": "left", "baseline": "middle", "font": "Liberation Serif", "fontWeight": "bold", "fontSize": 20, "color": "black"},
"encoding": {
"x": {"datum": 0.8, "type": "quantitative", "axis": {"orient": "bottom", "values": [22.5, 67.5, 112.5, 157.5], "labels": false, "tickSize": -3, "title": "Keff", "titleAngle": 0, "titleAlign": "left", "titleBaseline": "middle", "titleX": 203, "titleY": 39, "titleFontSize": 11, "titleFontStyle": "italic"}},
"y": {"datum": -1.99, "type": "quantitative", "axis": {"orient": "left", "values": [-1.25, 1.25], "labels": false, "tickSize": -3, "title": null}},
"text": {"field": "t"}
}},
{"data": {"values": [{"t": "rc = 0.425a"}]},
"mark": {"type": "text", "align": "right", "baseline": "middle", "font": "Liberation Serif", "fontWeight": "bold", "fontStyle": "italic", "fontSize": 13, "color": "black"},
"encoding": {
"x": {"datum": 180, "type": "quantitative", "axis": {"orient": "top", "values": [22.5, 67.5, 112.5, 157.5], "labels": false, "tickSize": -3, "title": null}},
"y": {"datum": 1.83, "type": "quantitative", "axis": {"orient": "right", "values": [-1.25, 1.25], "labels": false, "tickSize": -3, "title": null}},
"text": {"field": "t"}
}}
],
"resolve": {"axis": {"x": "independent", "y": "independent"}}
}
]
}
],
"spacing": 51,
"resolve": {"scale": {"x": "independent", "y": "independent", "color": "independent"}, "legend": {"color": "independent"}},
"config": {
"view": {"stroke": "black", "strokeWidth": 2},
"axis": {"domain": false, "grid": false, "ticks": true, "tickColor": "black", "tickWidth": 1.5, "tickSize": -5, "labelFont": "Liberation Sans", "labelFontWeight": "bold", "labelFontSize": 12.5, "labelColor": "black", "labelPadding": 11, "titleColor": "black", "titleFont": "Liberation Serif", "titleFontWeight": "bold", "titleFontSize": 18},
"legend": {"labelFont": "Liberation Sans", "labelFontWeight": "bold", "labelFontSize": 12, "labelColor": "black", "symbolSize": 484, "symbolStrokeWidth": 2.5, "symbolType": "stroke", "rowPadding": 3, "labelOffset": 3, "padding": 0},
"title": {"font": "Liberation Serif", "fontSize": 18, "fontWeight": "bold", "color": "black"},
"locale": {"number": {"decimal": ".", "thousands": ",", "grouping": [3], "currency": ["$", ""], "minus": "-"}}
}
}
